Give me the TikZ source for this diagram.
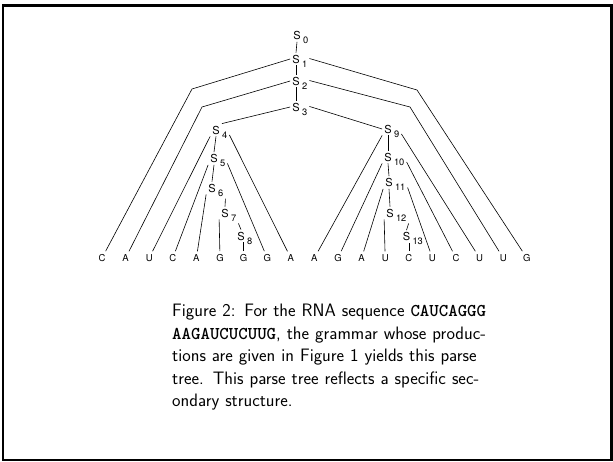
\documentclass[tikz,border=0pt]{standalone}
\usepackage{fontspec}
\newfontfamily\helv{TeX Gyre Heros}
\newcommand\Snode[4]{%
  \node[sn] (#1) at (#2,#3) {S};
  \node[sb] (#1i) at ([xshift=-2pt,yshift=-5pt]#1.east) {#4};}
\begin{document}
\begin{tikzpicture}[x=1pt,y=-1pt,
  sn/.style={font=\helv\fontsize{11}{11}\selectfont, inner sep=2pt},
  sb/.style={font=\helv\fontsize{9.3}{9.3}\selectfont, inner sep=2pt, anchor=west},
  lf/.style={font=\helv\fontsize{9.5}{9.5}\selectfont, inner sep=3pt},
  ed/.style={line width=0.6pt},
  frame/.style={line width=2.5pt}]
\useasboundingbox (0,0) rectangle (613,461);
\draw[frame] (3,5.5) rectangle (611.5,460);
% leaves
\foreach \l [count=\i] in {C,A,U,C,A,G,G,G,A,A,G,A,U,C,U,C,U,U,G}
  \node[lf] (L\i) at ({102+23.6*(\i-1)},258) {\l};
% S nodes
\Snode{s0}{297}{35.5}{0}
\Snode{s1}{296}{59}{1}
\Snode{s2}{296}{81}{2}
\Snode{s3}{296}{107}{3}
\Snode{s4}{216}{130}{4}
\Snode{s5}{214}{158.5}{5}
\Snode{s6}{212}{188}{6}
\Snode{s7}{225}{213}{7}
\Snode{s8}{241}{236}{8}
\Snode{s9}{388}{129}{9}
\Snode{s10}{388}{157}{10}
\Snode{s11}{389}{182.5}{11}
\Snode{s12}{390}{213}{12}
\Snode{s13}{406.5}{236.5}{13}
% bends
\coordinate (b1l) at (192,89);
\coordinate (b1r) at (417,90);
\coordinate (b2l) at (202,107);
\coordinate (b2r) at (410,107);
% edges
\draw[ed] (s0.south) -- (s1.north);
\draw[ed] (s1.south) -- (s2.north);
\draw[ed] (s2.south) -- (s3.north);
\draw[ed] (s1.west) -- (b1l) -- (L1);
\draw[ed] (s1i.north east) -- (b1r) -- (L19);
\draw[ed] (s2.west) -- (b2l) -- (L2);
\draw[ed] (s2i.north east) -- (b2r) -- (L18);
\draw[ed] (s3.west) -- (s4.north east);
\draw[ed] (s3i.north east) -- (s9.west);
% left subtree
\draw[ed] (s4.south west) -- (L3);
\draw[ed] (s4i.east) -- (L9);
\draw[ed] (s4.south) -- (s5.north);
\draw[ed] (s5.south west) -- (L4);
\draw[ed] (s5i.east) -- (L8);
\draw[ed] (s5.south) -- (s6.north);
\draw[ed] (s6.south west) -- (L5);
\draw[ed] (s6i.south east) -- (s7.north);
\draw[ed] (s7.south west) -- (L6);
\draw[ed] (s7i.south east) -- (s8.north);
\draw[ed] (L7) -- (L7 |- s8.south);
% right subtree
\draw[ed] (s9.south west) -- (L10);
\draw[ed] (s9i.east) -- (L17);
\draw[ed] (s9.south) -- (s10.north);
\draw[ed] (s10.south west) -- (L11);
\draw[ed] (s10i.east) -- (L16);
\draw[ed] (s10.south) -- (s11.north);
\draw[ed] (s11.south west) -- (L12);
\draw[ed] (s11i.east) -- (L15);
\draw[ed] (s11.south) -- (s12.north);
\draw[ed] (s12.south west) -- (L13);
\draw[ed] (s12i.south east) -- (s13.north);
\draw[ed] (L14) -- (L14 |- s13.south);
% caption
\node[anchor=north west, inner sep=0pt, text width=315pt,
  font=\sffamily\fontsize{18}{22.5}\selectfont] (cap) at (172,304)
  {Figure 2: For the RNA sequence \texttt{\bfseries CAUCAGGG}\linebreak
   \texttt{\bfseries AAGAUCUCUUG}, the grammar whose produc-\linebreak
   tions are given in Figure 1 yields this parse\linebreak
   tree.  This parse tree reflects a specific sec-\linebreak
   ondary structure.};
\end{tikzpicture}
\end{document}
